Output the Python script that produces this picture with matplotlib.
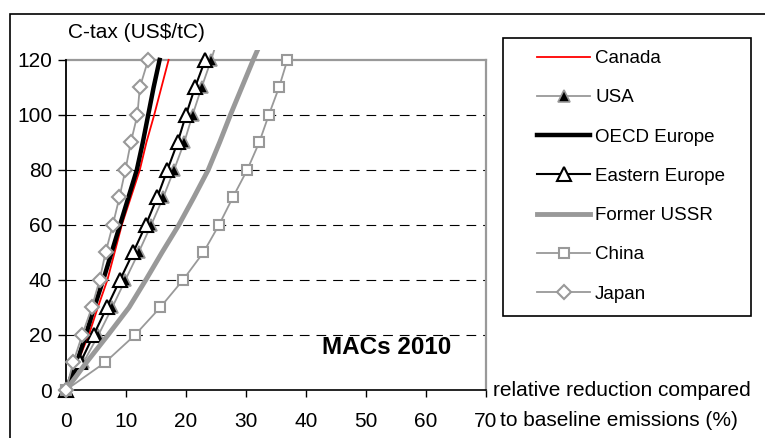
"""MACs 2010: marginal abatement cost curves per region."""

import matplotlib
matplotlib.use('Agg')
import matplotlib.pyplot as plt
from matplotlib.patches import Rectangle

plt.rcParams['font.family'] = ['Liberation Sans', 'DejaVu Sans']
plt.rcParams['lines.scale_dashes'] = False

# Carbon tax levels (US$/tC)
tax = [0, 10, 20, 30, 40, 50, 60, 70, 80, 90, 100, 110, 120]
# USA and Former USSR curves run on a little past 120
tax_ext = tax + [130]

# Relative reduction compared to baseline emissions (%)
canada = [0, 1.9, 3.8, 5.3, 6.9, 8.1, 9.3, 10.8, 12.3, 13.4, 14.7, 15.9, 17.1]
usa = [0, 2.9, 5.4, 7.7, 9.9, 12.1, 14.2, 16.2, 18.0, 19.7, 21.1, 22.6, 24.2, 25.6]
oecd_europe = [0, 1.8, 3.3, 4.7, 6.2, 7.6, 9.0, 10.4, 11.8, 12.8, 13.7, 14.6, 15.6]
eastern_europe = [0, 2.4, 4.6, 6.8, 9.0, 11.2, 13.3, 15.2, 16.9, 18.6, 20.0, 21.5, 23.2]
former_ussr = [0, 3.4, 7.0, 10.5, 13.3, 16.0, 18.8, 21.3, 23.7, 25.6, 27.4, 29.3, 31.2, 33.2]
china = [0, 6.5, 11.5, 15.7, 19.5, 22.9, 25.5, 27.8, 30.2, 32.2, 33.8, 35.5, 36.9]
japan = [0, 1.2, 2.7, 4.3, 5.6, 6.6, 7.8, 8.9, 9.9, 10.8, 11.9, 12.3, 13.7]

xticks = [0, 10, 20, 30, 40, 50, 60, 70]
yticks = [0, 20, 40, 60, 80, 100, 120]

W, H = 765, 438
gray = '#999999'

fig = plt.figure(figsize=(W / 100, H / 100), dpi=100)
ax = fig.add_axes([66 / W, 1 - 390 / H, 420 / W, 340 / H])

# dashed grid between 0 and 120, solid grey line on top
for yv in yticks[1:-1]:
    ax.axhline(yv, color='black', lw=0.8, dashes=(7, 5), zorder=1)
ax.axhline(yticks[-1], color=gray, lw=1.6, zorder=1, clip_on=False)

l_can, = ax.plot(canada, tax, color='red', lw=1.3, label='Canada', clip_on=False, zorder=3)
l_usa, = ax.plot(usa, tax_ext, color=gray, lw=1.3, marker='^', ms=8,
                 mfc='black', mec=gray, mew=1.2, markevery=slice(0, len(tax)),
                 label='USA', zorder=3)
l_oecd, = ax.plot(oecd_europe, tax, color='black', lw=3.2, label='OECD Europe',
                  clip_on=False, zorder=3)
l_ee, = ax.plot(eastern_europe, tax, color='black', lw=1.5, marker='^', ms=9.5,
                mfc='white', mec='black', mew=1.5, label='Eastern Europe',
                clip_on=False, zorder=3)
l_fsu, = ax.plot(former_ussr, tax_ext, color=gray, lw=3.5, label='Former USSR', zorder=3)
l_chn, = ax.plot(china, tax, color=gray, lw=1.3, marker='s', ms=7.5,
                 mfc='white', mec=gray, mew=1.5, label='China', clip_on=False, zorder=3)
l_jpn, = ax.plot(japan, tax, color=gray, lw=1.3, marker='D', ms=7,
                 mfc='white', mec=gray, mew=1.5, label='Japan', clip_on=False, zorder=3)

ax.set_xlim(0, 70)
ax.set_ylim(0, 123.6)
ax.set_xticks(xticks)
ax.set_yticks(yticks)
ax.tick_params(axis='both', labelsize=15, direction='out', color='black')
ax.tick_params(axis='y', length=6, width=1, pad=4)
ax.tick_params(axis='x', length=5, width=1, pad=11)

ax.spines['top'].set_visible(False)
ax.spines['left'].set_bounds(0, 120)
ax.spines['left'].set_linewidth(1.3)
ax.spines['bottom'].set_linewidth(1.2)
ax.spines['right'].set_bounds(0, 120)
ax.spines['right'].set_color(gray)
ax.spines['right'].set_linewidth(1.6)

ax.text(42.6, 15.6, 'MACs 2010', fontsize=17.5, fontweight='bold', va='center', ha='left')

fig.text(68 / W, 1 - 33 / H, 'C-tax (US$/tC)', fontsize=15, va='center', ha='left')
fig.text(493 / W, 1 - 390 / H, 'relative reduction compared', fontsize=15,
         va='center', ha='left')
fig.text(500 / W, 1 - 421 / H, 'to baseline emissions (%)', fontsize=15,
         va='center', ha='left')

# legend box
fig.patches.append(Rectangle((503 / W, 1 - 316 / H), 248 / W, 278 / H,
                             transform=fig.transFigure, fill=False,
                             edgecolor='black', lw=1.2))
fig.legend(handles=[l_can, l_usa, l_oecd, l_ee, l_fsu, l_chn, l_jpn],
           loc='upper left', bbox_to_anchor=(537 / W, 1 - 50 / H),
           frameon=False, borderpad=0, borderaxespad=0, fontsize=13.5,
           handlelength=2.85, handletextpad=0.25, labelspacing=1.18)

# outer chart frame
fig.patches.append(Rectangle((10 / W, -0.1), 2, 1.1 - 14 / H,
                             transform=fig.transFigure, fill=False,
                             edgecolor='black', lw=1.2))

plt.savefig('out.png', dpi=100)
